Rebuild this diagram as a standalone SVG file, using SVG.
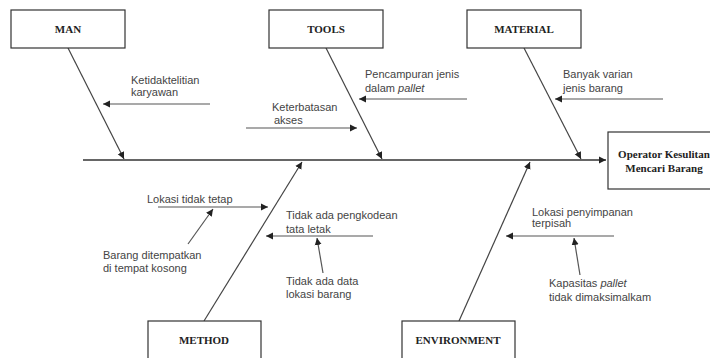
<svg xmlns="http://www.w3.org/2000/svg" width="710" height="358" viewBox="0 0 710 358">
<defs>
<marker id="ah" markerWidth="8" markerHeight="8" refX="7" refY="4" orient="auto" markerUnits="userSpaceOnUse">
<path d="M0,0.5 L7,4 L0,7.5 Z" fill="#222"/>
</marker>
<style>
.box{fill:#fff;stroke:#333;stroke-width:1.2}
.cat{font-family:"Liberation Serif",serif;font-weight:bold;font-size:11px;fill:#222;text-anchor:middle}
.lbl{font-family:"Liberation Sans",Arial,sans-serif;font-size:11px;fill:#444}
.bone{stroke:#444;stroke-width:1.2;fill:none}
.sub{stroke:#555;stroke-width:1.2;fill:none}
</style>
</defs>
<rect width="710" height="358" fill="#fff"/>
<g id="connectors">
<line x1="83" y1="160" x2="606" y2="160" stroke="#666" stroke-width="2" marker-end="url(#ah)"/>
<line class="bone" x1="68" y1="48" x2="124" y2="159" marker-end="url(#ah)"/>
<line class="bone" x1="326" y1="48" x2="382" y2="159" marker-end="url(#ah)"/>
<line class="bone" x1="524" y1="48" x2="581" y2="159" marker-end="url(#ah)"/>
<line class="bone" x1="204" y1="321" x2="302" y2="162" marker-end="url(#ah)"/>
<line class="bone" x1="459" y1="321" x2="530" y2="162" marker-end="url(#ah)"/>
<line class="sub" x1="210" y1="104" x2="103" y2="104" marker-end="url(#ah)"/>
<line class="sub" x1="467" y1="99" x2="359" y2="99" marker-end="url(#ah)"/>
<line class="sub" x1="246" y1="128" x2="357" y2="128" marker-end="url(#ah)"/>
<line class="sub" x1="663" y1="99" x2="555" y2="99" marker-end="url(#ah)"/>
<line class="sub" x1="158" y1="207" x2="268" y2="207" marker-end="url(#ah)"/>
<line class="sub" x1="188" y1="244" x2="213" y2="209" marker-end="url(#ah)"/>
<line class="sub" x1="373" y1="236" x2="266" y2="236" marker-end="url(#ah)"/>
<line class="sub" x1="323" y1="273" x2="317" y2="238" marker-end="url(#ah)"/>
<line class="sub" x1="614" y1="236" x2="506" y2="236" marker-end="url(#ah)"/>
<line class="sub" x1="580" y1="275" x2="574" y2="238" marker-end="url(#ah)"/>
</g>
<g id="man">
<rect class="box" x="11" y="10" width="114" height="38"/>
<text class="cat" x="68" y="33">MAN</text>
</g>
<g id="tools">
<rect class="box" x="269" y="10" width="114" height="38"/>
<text class="cat" x="326" y="33">TOOLS</text>
</g>
<g id="material">
<rect class="box" x="467" y="10" width="114" height="38"/>
<text class="cat" x="524" y="33">MATERIAL</text>
</g>
<g id="effect">
<rect class="box" x="608" y="132" width="106" height="57"/>
<text class="cat" x="664" y="158">Operator Kesulitan</text>
<text class="cat" x="664" y="172">Mencari Barang</text>
</g>
<g id="method">
<rect class="box" x="148" y="321" width="113" height="40"/>
<text class="cat" x="204" y="344">METHOD</text>
</g>
<g id="environment">
<rect class="box" x="402" y="321" width="113" height="40"/>
<text class="cat" x="458" y="344">ENVIRONMENT</text>
</g>
<g id="labels">
<text class="lbl" x="131" y="84">Ketidaktelitian</text>
<text class="lbl" x="131" y="96">karyawan</text>
<text class="lbl" x="365" y="78">Pencampuran jenis</text>
<text class="lbl" x="365" y="92">dalam <tspan font-style="italic">pallet</tspan></text>
<text class="lbl" x="272" y="111">Keterbatasan</text>
<text class="lbl" x="274" y="124">akses</text>
<text class="lbl" x="563" y="78">Banyak varian</text>
<text class="lbl" x="563" y="92">jenis barang</text>
<text class="lbl" x="147" y="203">Lokasi tidak tetap</text>
<text class="lbl" x="103" y="259">Barang ditempatkan</text>
<text class="lbl" x="103" y="272">di tempat kosong</text>
<text class="lbl" x="286" y="219">Tidak ada pengkodean</text>
<text class="lbl" x="286" y="233">tata letak</text>
<text class="lbl" x="286" y="285">Tidak ada data</text>
<text class="lbl" x="286" y="298">lokasi barang</text>
<text class="lbl" x="532" y="216">Lokasi penyimpanan</text>
<text class="lbl" x="532" y="227">terpisah</text>
<text class="lbl" x="549" y="287">Kapasitas <tspan font-style="italic">pallet</tspan></text>
<text class="lbl" x="549" y="301">tidak dimaksimalkam</text>
</g>
</svg>
